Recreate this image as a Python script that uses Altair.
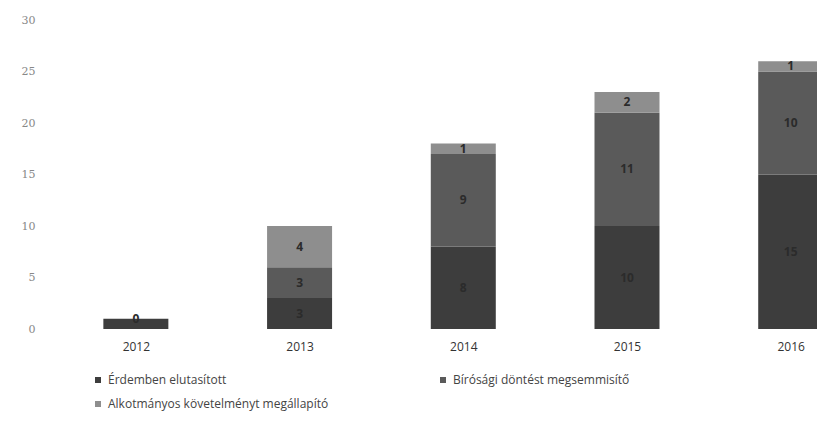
import altair as alt
import pandas as pd

years = [2012, 2013, 2014, 2015, 2016]
series_names = ["Érdemben elutasított", "Bírósági döntést megsemmisítő", "Alkotmányos követelményt megállapító"]
erdemben = [1, 3, 8, 10, 15]
birosagi = [0, 3, 9, 11, 10]
alkotmanyos = [0, 4, 1, 2, 1]
colors = ["#3d3d3d", "#5a5a5a", "#8e8e8e"]
y_ticks = [0, 5, 10, 15, 20, 25, 30]

rows = []
for i, yr in enumerate(years):
    for k, vals in enumerate([erdemben, birosagi, alkotmanyos]):
        rows.append({"year": yr, "series": series_names[k], "value": vals[i], "order": k})
df = pd.DataFrame(rows)

base = alt.Chart(df).transform_stack(
    stack="value", groupby=["year"], sort=[alt.SortField("order", order="ascending")], as_=["y0", "y1"]
).transform_calculate(mid="(datum.y0 + datum.y1) / 2")

x_enc = alt.X(
    "year:Q",
    scale=alt.Scale(domain=[2011.5, 2016.13], nice=False, zero=False),
    axis=alt.Axis(values=years, format="d", title=None, domain=False, ticks=False, grid=False,
                  labelFontSize=12, labelColor="#333", labelPadding=12, labelFont="Open Sans"),
)
y_scale = alt.Scale(domain=[0, 30], nice=False)

bars = base.mark_bar(size=65, clip=True).encode(
    x=x_enc,
    y=alt.Y("y0:Q", scale=y_scale,
            axis=alt.Axis(values=y_ticks, title=None, domain=False, ticks=False, grid=False,
                          labelFontSize=11, labelColor="#888", labelPadding=14, labelFont="DejaVu Serif")),
    y2="y1:Q",
    color=alt.Color("series:N", scale=alt.Scale(domain=series_names, range=colors),
                    legend=alt.Legend(title=None, orient="none", direction="horizontal",
                                      legendX=43, legendY=354, columns=2,
                                      columnPadding=108, rowPadding=12, symbolType="square",
                                      symbolSize=36, symbolStrokeWidth=0, labelFontSize=12,
                                      labelLimit=400, labelColor="#444", labelFont="Open Sans")),
    order=alt.Order("order:Q"),
)

text = base.transform_filter(
    "datum.value > 0 ? datum.year > 2012 : datum.order == 2"
).mark_text(fontSize=12, color="#2b2b2b", fontWeight="bold", font="Open Sans").encode(
    x=x_enc,
    y=alt.Y("mid:Q", scale=y_scale),
    text="value:Q",
)

chart = alt.layer(bars, text).properties(
    width=768, height=309,
    padding={"left": 41, "top": 12, "right": 0, "bottom": 94},
    autosize=alt.AutoSizeParams(type="none"),
).configure_view(stroke=None)

chart.save("out.html", embed_options={"renderer": "svg", "actions": False})
